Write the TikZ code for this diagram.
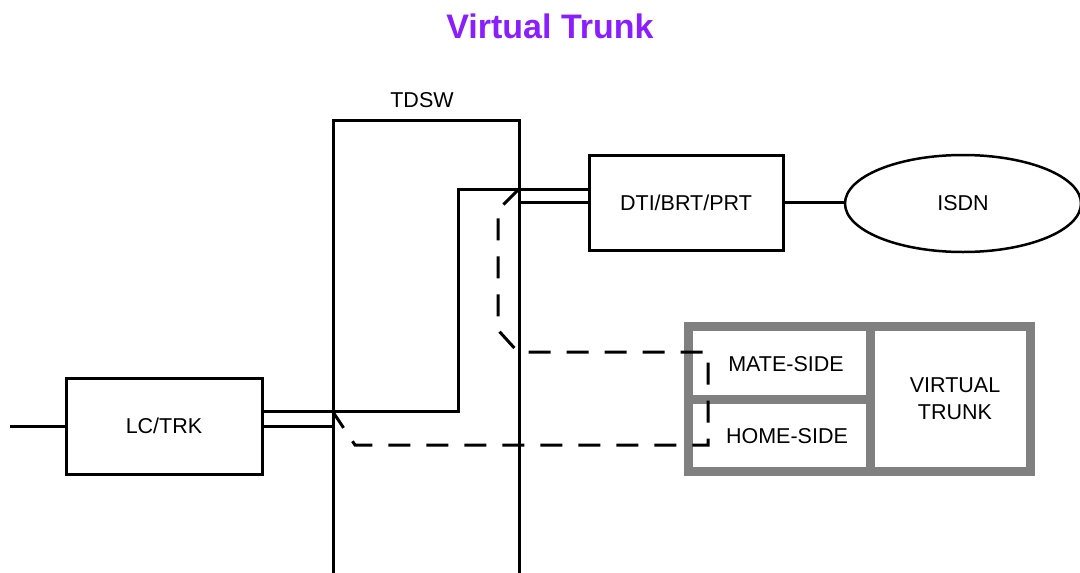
\documentclass[tikz,border=0pt]{standalone}
\usepackage{fontspec}
\setmainfont{Liberation Sans}
\usetikzlibrary{shapes.geometric}
\definecolor{titlepurple}{RGB}{138,30,255}
\definecolor{vtgray}{RGB}{128,128,128}
\begin{document}
\begin{tikzpicture}[x=1pt,y=-1pt,
  wire/.style={line width=3pt},
  dashwire/.style={line width=3pt,dash pattern=on 22pt off 16pt},
  box/.style={draw,line width=3pt,rectangle,inner sep=0pt,font=\fontsize{21.5}{27}\selectfont},
  lbl/.style={inner sep=0pt,font=\fontsize{21.5}{27}\selectfont,align=center},
  vtline/.style={draw=vtgray,line width=9pt}]
\useasboundingbox (0,0) rectangle (1080,573);
\node[inner sep=0pt,text=titlepurple,font=\fontsize{34}{40}\selectfont\bfseries] (title) at (550,26) {Virtual Trunk};
\node[lbl] (tdswlbl) at (422,100) {TDSW};
% TDSW switch frame
\coordinate (tl) at (333,120);
\coordinate (tr) at (519,120);
\coordinate (bl) at (333,573);
\coordinate (br) at (519,573);
\draw[wire] (bl) -- (tl) -- (tr) -- (br);
% boxes
\node[box,minimum width=194pt,minimum height=95pt] (dti) at (686,202.5) {DTI/BRT/PRT};
\node[draw,line width=2.5pt,ellipse,minimum width=236pt,minimum height=97pt,inner sep=0pt,font=\fontsize{21.5}{27}\selectfont] (isdn) at (963,203.5) {ISDN};
\node[box,minimum width=196pt,minimum height=96pt] (lc) at (164,426) {LC/TRK};
\coordinate (lcin) at (10,426);
\draw[wire] (lcin) -- (lc.west);
\draw[wire] (dti.east) -- (dti.east -| isdn.west);
% solid connections through the switch
\coordinate (up1) at (458,411);
\coordinate (up2) at (458,189);
\draw[wire] (lc.east |- up1) -- (up1) -- (up2) -- (dti.west |- up2);
\draw[wire] (lc.east) -- (lc.east -| tl);
\draw[wire] (dti.west) -- (dti.west -| tr);
% virtual trunk block
\node[vtline,rectangle,minimum width=342pt,minimum height=145pt,inner sep=0pt] (vt) at (859,398.5) {};
\coordinate (vdt) at (870,326);
\coordinate (vdb) at (870,471);
\draw[vtline] (vdt) -- (vdb);
\coordinate (hdl) at (688,399);
\draw[vtline] (hdl) -- (hdl -| vdt);
\node[lbl] (mate) at (786,364) {MATE-SIDE};
\node[lbl] (home) at (787,436) {HOME-SIDE};
\node[lbl] (vtrunk) at (955,399) {VIRTUAL\\TRUNK};
% dashed virtual path
\coordinate (d0) at (519,189);
\coordinate (d1) at (498,210);
\coordinate (d2) at (498,330);
\coordinate (d3) at (518,352);
\coordinate (d4) at (708,352);
\coordinate (d5) at (708,445);
\coordinate (d6) at (355,445);
\coordinate (d7) at (333,412);
\draw[dashwire] (d0) -- (d1) -- (d2) -- (d3) -- (d4) -- (d5) -- (d6) -- (d7);
\end{tikzpicture}
\end{document}
